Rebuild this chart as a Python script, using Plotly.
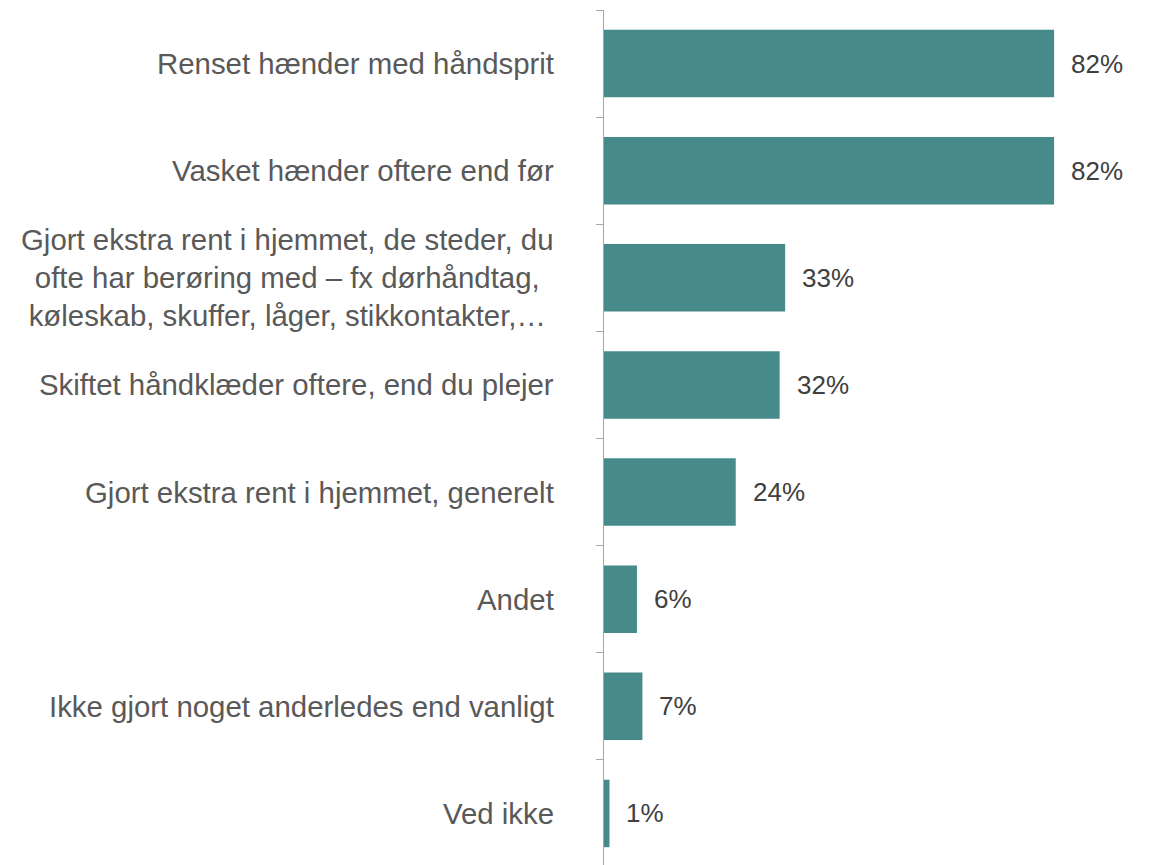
import plotly.graph_objects as go

categories = [
    "Renset hænder med håndsprit",
    "Vasket hænder oftere end før",
    "Gjort ekstra rent i hjemmet, de steder, du<br>ofte har berøring med – fx dørhåndtag,<br>køleskab, skuffer, låger, stikkontakter,…",
    "Skiftet håndklæder oftere, end du plejer",
    "Gjort ekstra rent i hjemmet, generelt",
    "Andet",
    "Ikke gjort noget anderledes end vanligt",
    "Ved ikke",
]
values = [0.82, 0.82, 0.33, 0.32, 0.24, 0.06, 0.07, 0.01]
value_labels = ["82%", "82%", "33%", "32%", "24%", "6%", "7%", "1%"]

BAR_COLOR = "#468B89"
FONT = "Liberation Sans, Arial, sans-serif"

fig = go.Figure()
fig.add_trace(go.Bar(
    x=values,
    y=list(range(len(categories))),
    orientation="h",
    marker=dict(color=BAR_COLOR, line=dict(width=0)),
    hoverinfo="skip",
))

annotations = []
for i, (cat, v, lab) in enumerate(zip(categories, values, value_labels)):
    annotations.append(dict(
        x=0, xref="paper", y=i, yref="y",
        text=cat, showarrow=False, xanchor="right", yanchor="middle",
        align="center", xshift=-48,
        font=dict(family=FONT, size=29.4, color="#595959"),
    ))
    annotations.append(dict(
        x=v, xref="x", y=i, yref="y",
        text=lab, showarrow=False, xanchor="left", yanchor="middle",
        xshift=15,
        font=dict(family=FONT, size=26, color="#404040"),
    ))

fig.update_layout(
    width=1142, height=859,
    margin=dict(l=596, r=52, t=2, b=0),
    paper_bgcolor="white", plot_bgcolor="white",
    bargap=0.37,
    showlegend=False,
    annotations=annotations,
    xaxis=dict(range=[0, 0.9], visible=False, showgrid=False, zeroline=False),
    yaxis=dict(
        range=[len(categories) - 0.5, -0.5],
        tickmode="array",
        tickvals=[i - 0.5 for i in range(len(categories) + 1)],
        ticks="outside", ticklen=7, tickcolor="#A6A6A6", tickwidth=1,
        showticklabels=False,
        showline=True, linecolor="#A6A6A6", linewidth=1,
        showgrid=False, zeroline=False,
    ),
)

fig.write_html("out.html")
